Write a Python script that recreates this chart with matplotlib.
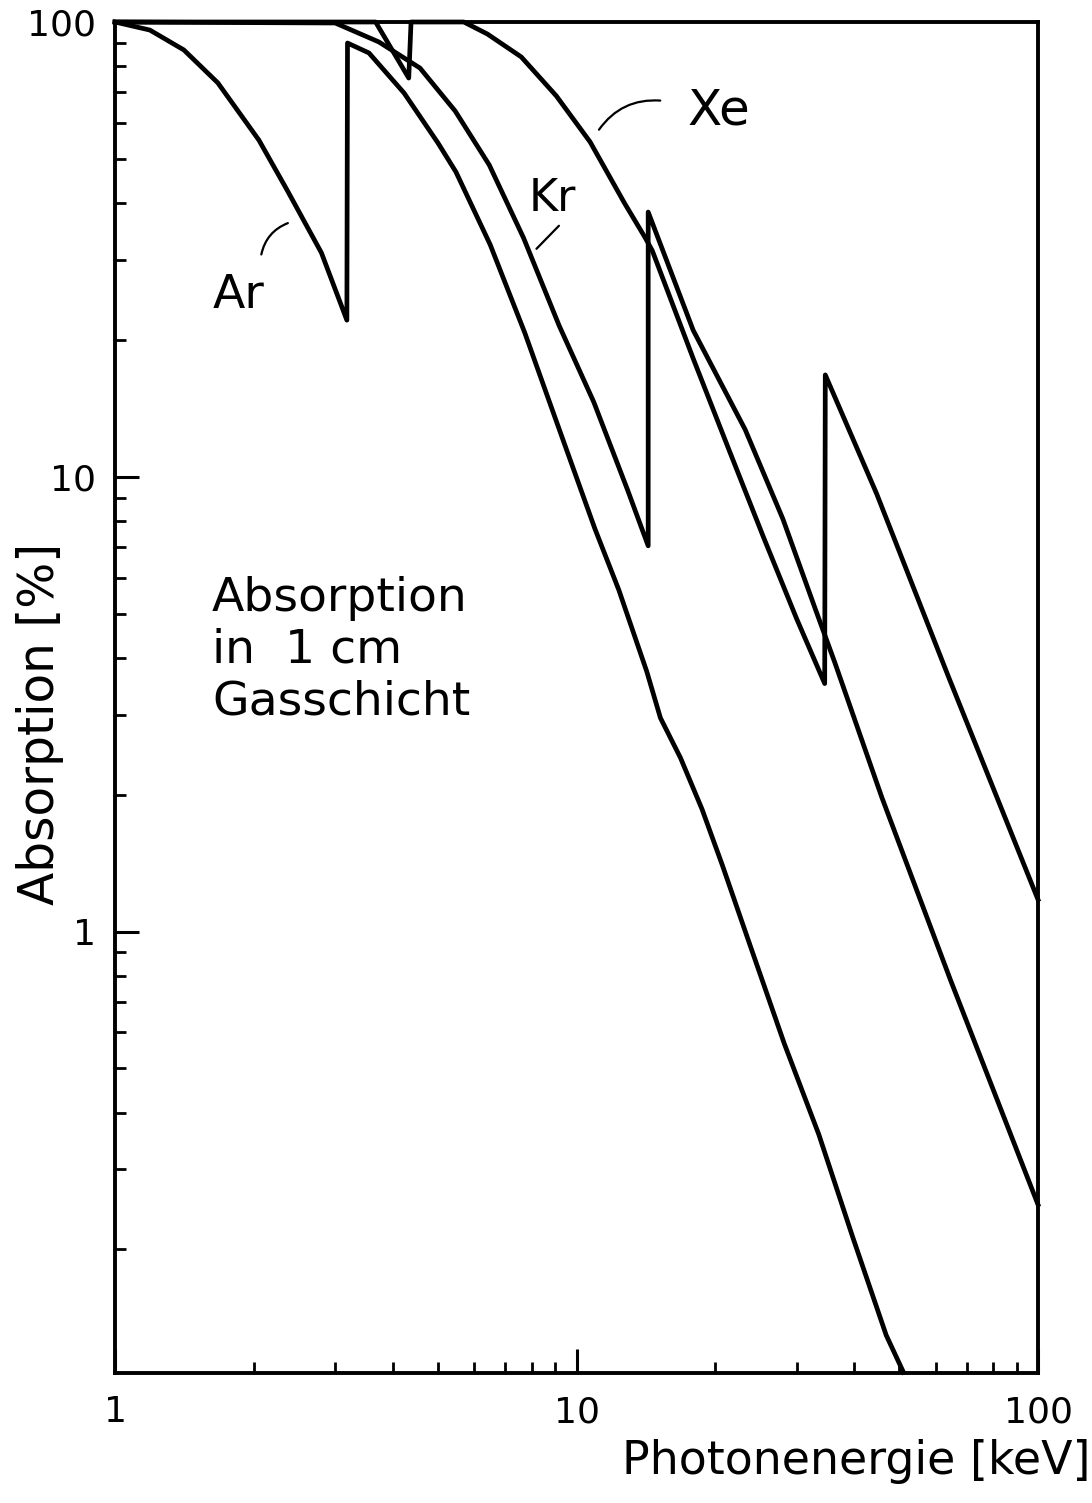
import matplotlib
matplotlib.use("Agg")
import matplotlib.pyplot as plt
from matplotlib.ticker import LogLocator, NullFormatter, FixedLocator, FixedFormatter

ar_e = [1.0, 1.19, 1.41, 1.67, 2.05, 2.36, 2.80, 3.18, 3.19, 3.55, 4.23, 5.01, 5.48, 6.50, 7.73,
        9.23, 10.96, 12.35, 14.2, 15.2, 16.8, 18.7, 20.7, 23.8, 28.2, 33.5, 39.7, 46.9, 51.1]
ar_a = [100, 96.0, 86.8, 73.5, 55.0, 42.7, 31.1, 22.1, 89.9, 85.5, 69.8, 54.2, 46.8, 32.4, 20.7,
        12.5, 7.69, 5.64, 3.73, 2.95, 2.41, 1.86, 1.40, 0.93, 0.567, 0.358, 0.2125, 0.1295, 0.1074]

kr_e = [1.0, 3.0, 3.73, 4.58, 5.46, 6.47, 7.68, 9.17, 10.9, 12.9, 14.3, 14.3, 17.9, 23.2, 28.0,
        32.9, 36.3, 45.9, 64.7, 100]
kr_a = [100, 99.5, 90.4, 79.2, 63.7, 48.5, 33.5, 21.5, 14.6, 9.36, 7.05, 38.2, 21.0, 12.7, 8.08,
        5.13, 3.90, 1.97, 0.78, 0.251]

xe_e = [1.0, 3.67, 4.33, 4.38, 5.70, 6.41, 7.59, 9.04, 10.7, 12.7, 14.1, 14.6, 17.9, 21.3, 25.4,
        30.0, 34.5, 34.6, 44.7, 64.0, 100]
xe_a = [100, 100, 75.3, 100, 100, 94.1, 83.8, 68.8, 54.5, 40.0, 33.5, 31.4, 18.2, 11.6, 7.38,
        4.87, 3.51, 16.75, 9.18, 3.63, 1.176]

x_ticks = [1, 10, 100]
x_ticklabels = ["1", "10", "100"]
y_ticks = [1, 10, 100]
y_ticklabels = ["1", "10", "100"]

fig = plt.figure(figsize=(10.92, 15.03), dpi=100)
ax = fig.add_axes([115 / 1092, 1 - 1373 / 1503, (1038 - 115) / 1092, (1373 - 22) / 1503])

for e, a in [(ar_e, ar_a), (kr_e, kr_a), (xe_e, xe_a)]:
    ax.plot(e, a, color="black", lw=3.4, clip_on=False, solid_joinstyle="round")

ax.set_xscale("log")
ax.set_yscale("log")
ax.set_xlim(1, 100)
ax.set_ylim(0.107, 100)

for s in ax.spines.values():
    s.set_linewidth(2.8)

ax.xaxis.set_major_locator(FixedLocator(x_ticks))
ax.xaxis.set_major_formatter(FixedFormatter(x_ticklabels))
ax.yaxis.set_major_locator(FixedLocator(y_ticks))
ax.yaxis.set_major_formatter(FixedFormatter(y_ticklabels))
ax.xaxis.set_minor_locator(LogLocator(base=10, subs=range(2, 10)))
ax.yaxis.set_minor_locator(LogLocator(base=10, subs=range(2, 10)))
ax.xaxis.set_minor_formatter(NullFormatter())
ax.yaxis.set_minor_formatter(NullFormatter())
ax.tick_params(which="major", direction="in", length=17, width=2.2, labelsize=26)
ax.tick_params(which="minor", direction="in", length=8, width=2.0)
ax.tick_params(axis="x", which="major", pad=16)
ax.tick_params(axis="y", which="major", pad=14)

# Beschriftung der Kurven
ax.text(1.85, 25.1, "Ar", fontsize=34, ha="center", va="center")
ax.annotate("", xy=(2.40, 36.3), xytext=(2.07, 30.4),
            arrowprops=dict(arrowstyle="-", lw=1.6, connectionstyle="arc3,rad=-0.3"))
ax.text(8.87, 41.0, "Kr", fontsize=32, ha="center", va="center")
ax.annotate("", xy=(9.25, 36.0), xytext=(8.11, 31.4),
            arrowprops=dict(arrowstyle="-", lw=1.6))
ax.text(20.3, 64.0, "Xe", fontsize=36, ha="center", va="center")
ax.annotate("", xy=(11.1, 57.3), xytext=(15.4, 67.1),
            arrowprops=dict(arrowstyle="-", lw=1.6, connectionstyle="arc3,rad=0.3"))

ax.text(0.105, 0.590, "Absorption\nin  1 cm\nGasschicht", transform=ax.transAxes,
        fontsize=34, ha="left", va="top", linespacing=1.2)

fig.text(40 / 1092, 1 - 724 / 1503, "Absorption [%]", rotation=90, fontsize=35,
         ha="center", va="center")
fig.text(622 / 1092, 1 - 1462 / 1503, "Photonenergie [keV]", fontsize=33,
         ha="left", va="center")

fig.savefig("out.png", dpi=100)
